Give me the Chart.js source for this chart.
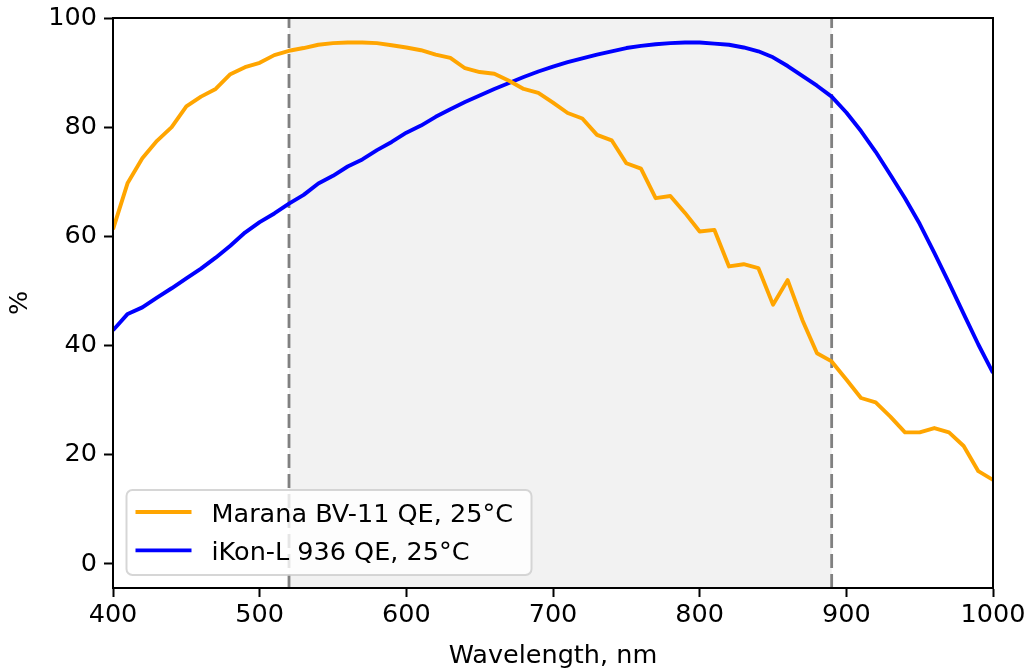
<!DOCTYPE html>
<html>
<head>
<meta charset="utf-8">
<script src="https://cdn.jsdelivr.net/npm/chart.js@4"></script>
<style>
  html, body { margin: 0; padding: 0; background: #fff; }
  canvas { display: block; }
</style>
</head>
<body>
<canvas id="c" width="1027" height="669"></canvas>
<script>
const wavelengths = [400, 410, 420, 430, 440, 450, 460, 470, 480, 490,
  500, 510, 520, 530, 540, 550, 560, 570, 580, 590,
  600, 610, 620, 630, 640, 650, 660, 670, 680, 690,
  700, 710, 720, 730, 740, 750, 760, 770, 780, 790,
  800, 810, 820, 830, 840, 850, 860, 870, 880, 890,
  900, 910, 920, 930, 940, 950, 960, 970, 980, 990, 1000];

const maranaQE = [61.3, 69.8, 74.3, 77.5, 80.0, 83.8, 85.6, 87.0, 89.7, 91.0,
  91.8, 93.2, 94.0, 94.5, 95.1, 95.4, 95.5, 95.5, 95.4, 95.0,
  94.6, 94.1, 93.3, 92.7, 90.8, 90.1, 89.8, 88.5, 87.0, 86.3,
  84.5, 82.6, 81.6, 78.6, 77.6, 73.4, 72.4, 67.0, 67.4, 64.3,
  60.9, 61.2, 54.5, 54.9, 54.2, 47.5, 52.0, 44.7, 38.6, 37.1,
  33.8, 30.4, 29.6, 27.0, 24.1, 24.1, 24.9, 24.1, 21.6, 17.0, 15.4];

const ikonQE = [42.8, 45.8, 47.0, 48.8, 50.5, 52.3, 54.1, 56.1, 58.3, 60.7,
  62.6, 64.2, 66.0, 67.6, 69.7, 71.1, 72.8, 74.1, 75.8, 77.3,
  79.0, 80.3, 81.9, 83.3, 84.6, 85.8, 87.0, 88.1, 89.2, 90.2,
  91.1, 91.9, 92.6, 93.3, 93.9, 94.5, 94.9, 95.2, 95.4, 95.5,
  95.5, 95.3, 95.1, 94.6, 93.9, 92.8, 91.2, 89.4, 87.6, 85.6,
  82.7, 79.3, 75.5, 71.3, 67.0, 62.3, 57.0, 51.5, 45.8, 40.2, 35.0];

const seriesLabels = ['Marana BV-11 QE, 25°C', 'iKon-L 936 QE, 25°C'];
const seriesColors = ['#FFA500', '#0000FF'];
const xTicks = [400, 500, 600, 700, 800, 900, 1000];
const yTicks = [0, 20, 40, 60, 80, 100];
const bandEdges = [520, 890];

const FONT = { family: 'DejaVu Sans', size: 25.5 };
const TICKFONT = { family: 'DejaVu Sans', size: 25.5, lineHeight: 1 };
Chart.defaults.font.family = 'DejaVu Sans';
Chart.defaults.color = '#000';

const toPts = arr => wavelengths.map((w, i) => ({ x: w, y: arr[i] }));

const decorPlugin = {
  id: 'decor',
  beforeDatasetsDraw(chart) {
    const { ctx, chartArea: a, scales: { x } } = chart;
    const x0 = x.getPixelForValue(bandEdges[0]);
    const x1 = x.getPixelForValue(bandEdges[1]);
    ctx.save();
    ctx.fillStyle = '#f2f2f2';
    ctx.fillRect(x0, a.top, x1 - x0, a.bottom - a.top);
    ctx.strokeStyle = '#808080';
    ctx.lineWidth = 2.8;
    ctx.setLineDash([14, 6]);
    [x0, x1].forEach(xp => {
      ctx.beginPath();
      ctx.moveTo(xp, a.bottom);
      ctx.lineTo(xp, a.top);
      ctx.stroke();
    });
    ctx.restore();
  },
  afterDraw(chart) {
    const { ctx, chartArea: a } = chart;
    ctx.save();
    ctx.strokeStyle = '#000';
    ctx.lineWidth = 2;
    ctx.strokeRect(a.left, a.top, a.right - a.left, a.bottom - a.top);
    const lx = a.left + 13.5, ly = a.bottom - 98, lw = 405, lh = 85;
    ctx.beginPath();
    ctx.roundRect(lx, ly, lw, lh, 6);
    ctx.fillStyle = 'rgba(255,255,255,0.8)';
    ctx.fill();
    ctx.strokeStyle = 'rgba(204,204,204,0.8)';
    ctx.lineWidth = 2;
    ctx.stroke();
    ctx.font = FONT.size + 'px "DejaVu Sans"';
    ctx.textBaseline = 'alphabetic';
    ctx.textAlign = 'left';
    chart.data.datasets.forEach((ds, i) => {
      const cy = ly + 22 + i * 38.3;
      ctx.strokeStyle = ds.borderColor;
      ctx.lineWidth = 3.8;
      ctx.beginPath();
      ctx.moveTo(lx + 9, cy);
      ctx.lineTo(lx + 65, cy);
      ctx.stroke();
      ctx.fillStyle = '#000';
      ctx.fillText(ds.label, lx + 85, cy + 9.5);
    });
    ctx.restore();
  }
};

new Chart(document.getElementById('c'), {
  type: 'line',
  data: {
    datasets: [
      { label: seriesLabels[0], data: toPts(maranaQE), borderColor: seriesColors[0], backgroundColor: seriesColors[0], borderWidth: 3.9, pointRadius: 0, tension: 0, fill: false, borderJoinStyle: 'round', borderCapStyle: 'butt' },
      { label: seriesLabels[1], data: toPts(ikonQE), borderColor: seriesColors[1], backgroundColor: seriesColors[1], borderWidth: 3.9, pointRadius: 0, tension: 0, fill: false, borderJoinStyle: 'round', borderCapStyle: 'butt' }
    ]
  },
  options: {
    responsive: false,
    animation: false,
    devicePixelRatio: 1,
    layout: { padding: { left: 0, top: 18, right: 34, bottom: 0 } },
    plugins: { legend: { display: false }, tooltip: { enabled: false } },
    scales: {
      x: {
        type: 'linear',
        min: 400, max: 1000,
        afterBuildTicks: s => { s.ticks = xTicks.map(v => ({ value: v })); },
        afterFit: s => { s.height = 81; s.paddingLeft = 0; s.paddingRight = 0; },
        grid: { drawOnChartArea: false, tickLength: 9, tickWidth: 2, tickColor: '#000' },
        border: { display: true, color: '#000', width: 2 },
        ticks: { font: FONT, color: '#000', padding: 3, autoSkip: false, maxRotation: 0, callback: v => String(v) },
        title: { display: true, text: 'Wavelength, nm', font: FONT, color: '#000', padding: { top: 0, bottom: -3 } }
      },
      y: {
        type: 'linear',
        min: -4.4, max: 100,
        afterBuildTicks: s => { s.ticks = yTicks.map(v => ({ value: v })); },
        afterFit: s => { s.width = 113; s.paddingTop = 0; s.paddingBottom = 0; },
        grid: { drawOnChartArea: false, tickLength: 9, tickWidth: 2, tickColor: '#000' },
        border: { display: true, color: '#000', width: 2 },
        ticks: { font: TICKFONT, color: '#000', padding: 7, callback: v => String(v) },
        title: { display: true, text: '%', font: FONT, color: '#000', padding: { top: 5, bottom: 0 } }
      }
    }
  },
  plugins: [decorPlugin]
});
</script>
</body>
</html>
